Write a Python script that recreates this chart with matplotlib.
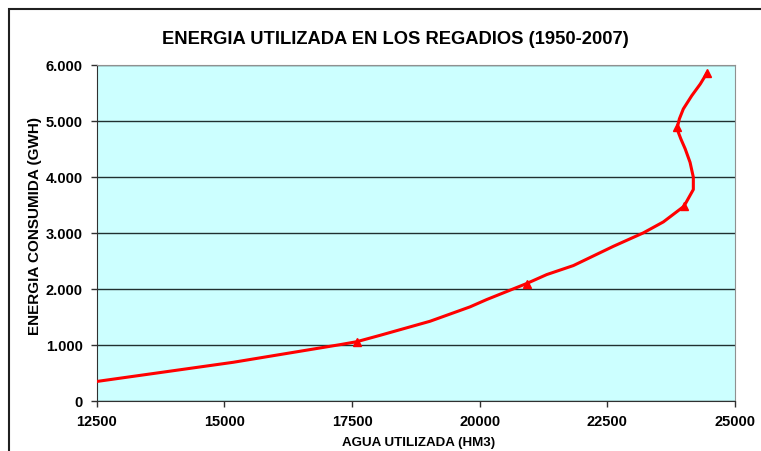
import numpy as np
import matplotlib.pyplot as plt
from matplotlib.patches import Rectangle
from matplotlib.ticker import FuncFormatter

# agua utilizada (hm3) vs energia consumida (gwh)
agua = [12500, 15175, 17265, 17590, 18055, 19028, 19811, 20138, 20660, 20920,
        21313, 21835, 22618, 23205, 23597, 24000, 24184, 24184, 24120, 24025,
        23940, 23890, 23870, 23910, 23988, 24153, 24320, 24450]
energia = [340, 683, 998, 1050, 1166, 1416, 1673, 1804, 1995, 2090,
           2250, 2411, 2755, 2995, 3191, 3470, 3770, 3990, 4255, 4495,
           4673, 4792, 4880, 5030, 5210, 5446, 5655, 5850]
marcas = [3, 9, 15, 22, 27]

x_ticks = [12500, 15000, 17500, 20000, 22500, 25000]
y_ticks = [0, 1000, 2000, 3000, 4000, 5000, 6000]

plt.rcParams['font.family'] = ['Liberation Sans', 'DejaVu Sans']
plt.rcParams['font.weight'] = 'bold'

W, H = 761, 452
fig = plt.figure(figsize=(W / 100, H / 100), dpi=100)
ax = fig.add_axes([96.7 / W, 1 - 401.5 / H, (735 - 96.7) / W, (401.5 - 65.7) / H])

# chart frame, cut off at right and bottom like the original
fig.patches.append(Rectangle((9 / W, -0.1), 1.2, 1 - 10 / H + 0.1, transform=fig.transFigure,
                             fill=False, edgecolor='#202020', linewidth=1.5))

ax.set_facecolor('#CCFFFF')
ax.plot(agua, energia, color='#FF0000', linewidth=2.2, marker='^', markersize=6,
        markevery=marcas, zorder=3)

ax.set_xlim(12500, 25000)
ax.set_ylim(0, 6000)
ax.set_xticks(x_ticks)
ax.set_yticks(y_ticks)
ax.yaxis.set_major_formatter(FuncFormatter(lambda v, p: f"{int(v):,}".replace(',', '.')))
ax.grid(axis='y', color='#203030', linewidth=1)
ax.set_axisbelow(True)
ax.tick_params(direction='out', length=4, width=1, color='#303030', labelsize=10.5, pad=6)

for s in ['top', 'right']:
    ax.spines[s].set_color('#909090')
for s in ['left', 'bottom']:
    ax.spines[s].set_color('#303030')

fig.text(395 / W, 1 - 40 / H, 'ENERGIA UTILIZADA EN LOS REGADIOS (1950-2007)',
         fontsize=13.2, fontweight='bold', ha='center', va='center')
fig.text(419 / W, 1 - 443 / H, 'AGUA UTILIZADA (HM3)',
         fontsize=9.6, fontweight='bold', ha='center', va='center')
fig.text(35 / W, 1 - 226 / H, 'ENERGIA CONSUMIDA (GWH)', rotation=90,
         fontsize=11, fontweight='bold', ha='center', va='center')

fig.savefig('out.png', dpi=100)
